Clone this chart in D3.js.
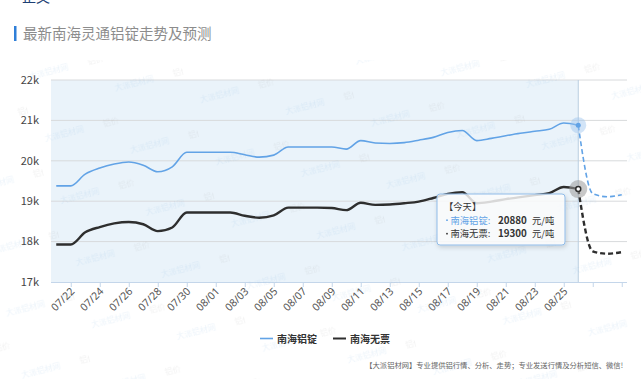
<!DOCTYPE html>
<html><head><meta charset="utf-8">
<script src="https://cdn.jsdelivr.net/npm/d3@7"></script>
<style>
html,body{margin:0;padding:0;background:#fff;}
svg{display:block;font-family:"Noto Sans CJK SC","Noto Sans",sans-serif;}
</style></head>
<body><svg id="c" width="641" height="379"></svg>
<script>
const dates = ["07/21","07/22","07/23","07/24","07/25","07/26","07/27","07/28","07/29","07/30",
"07/31","08/01","08/02","08/03","08/04","08/05","08/06","08/07","08/08","08/09",
"08/10","08/11","08/12","08/13","08/14","08/15","08/16","08/17","08/18","08/19",
"08/20","08/21","08/22","08/23","08/24","08/25","08/26","08/27","08/28","08/29"];
const todayLabel = "08/26";
const seriesNames = ["南海铝锭","南海无票"];
const ingot = [19380,19380,19670,19820,19920,19970,19890,19730,19850,20210,
20210,20210,20210,20150,20090,20140,20340,20340,20340,20340,
20290,20500,20440,20430,20450,20510,20580,20700,20750,20500,
20555,20620,20680,20730,20780,20935,20880];
const ingotForecast = [20880,19190,19110,19160];
const noTicket = [17930,17930,18230,18360,18450,18485,18430,18260,18350,18720,
18720,18720,18720,18640,18590,18650,18840,18840,18840,18830,
18780,18960,18910,18920,18950,18990,19080,19180,19220,18950,
18990,19050,19100,19150,19200,19350,19300];
const noTicketForecast = [19300,17760,17700,17740];
const yTicks = [17000,18000,19000,20000,21000,22000];
const title = "最新南海灵通铝锭走势及预测";
const footer = "【大派铝材网】专业提供铝行情、分析、走势；专业发送行情及分析短信、微信!";

const svg = d3.select("#c");
const colBlue = "#62a3e6", colBlack = "#2e2e2e";
const x = d3.scalePoint().domain(dates).range([49, 629]).padding(0.5);
const y = d3.scaleLinear().domain([17000, 22000]).range([282, 80]);
const left = 51, right = 627;
const ti = dates.indexOf(todayLabel);
const xt = x(todayLabel);

// watermark pattern
const defs = svg.append("defs");
const pat = defs.append("pattern").attr("id","wm").attr("patternUnits","userSpaceOnUse")
  .attr("width",160).attr("height",64).attr("patternTransform","rotate(-14)");
pat.append("text").attr("x",10).attr("y",20).attr("font-size",8).attr("fill","#5b9bd5").attr("opacity",0.12).text("大派铝材网");
pat.append("text").attr("x",70).attr("y",20).attr("font-size",8).attr("fill","#888").attr("opacity",0.12).text("铝价");
pat.append("text").attr("x",90).attr("y",52).attr("font-size",8).attr("fill","#5b9bd5").attr("opacity",0.12).text("大派铝材网");
pat.append("text").attr("x",150).attr("y",52).attr("font-size",8).attr("fill","#888").attr("opacity",0.12).text("铝价");
const flt = defs.append("filter").attr("id","sh").attr("x","-20%").attr("y","-20%").attr("width","140%").attr("height","140%");
flt.append("feDropShadow").attr("dx",1).attr("dy",2).attr("stdDeviation",2).attr("flood-color","#000").attr("flood-opacity",0.18);

// top cut text (partially visible in reference)
svg.append("text").attr("x",22).attr("y",1.5).attr("font-size",14).attr("fill","#1d3f73").text("正文");

// title
svg.append("rect").attr("x",14).attr("y",26).attr("width",2.5).attr("height",15).attr("fill","#2f7fd8");
svg.append("text").attr("x",23).attr("y",39).attr("font-size",14.5).attr("fill","#8c8c8c").text(title);

// shaded past area
svg.append("rect").attr("x",left).attr("y",y(22000)).attr("width",xt-left).attr("height",y(17000)-y(22000)).attr("fill","#eaf3fa");

// gridlines
svg.append("g").selectAll("line").data(yTicks.slice(1)).join("line")
  .attr("x1",left).attr("x2",right).attr("y1",d=>y(d)).attr("y2",d=>y(d))
  .attr("stroke","#d8dadc").attr("stroke-width",1);

// y labels
svg.append("g").selectAll("text").data(yTicks).join("text")
  .attr("x",39).attr("y",d=>y(d)).attr("dy","0.35em").attr("text-anchor","end")
  .attr("font-size",11).attr("fill","#444").text(d=>(d/1000)+"k");

// x axis
const xAxis = d3.axisBottom(x).tickValues(dates.filter((d,i)=>i%2===1)).tickSize(5)
  .tickFormat(d=> dates.indexOf(d) <= 35 ? d : "");
const gx = svg.append("g").attr("transform","translate(0,282)").call(xAxis);
gx.select(".domain").attr("stroke","#c4d6ea").attr("d",`M${left},0.5H${right}`);
gx.selectAll(".tick line").attr("stroke","#c4d6ea");
gx.selectAll(".tick text").attr("font-size",10.5).attr("fill","#555")
  .attr("font-family","'Noto Sans','DejaVu Sans',sans-serif")
  .attr("text-anchor","end").attr("dy",0).attr("y",0)
  .attr("transform","translate(4,10) rotate(-45)");

// today line
svg.append("line").attr("x1",xt).attr("x2",xt).attr("y1",y(22000)).attr("y2",282)
  .attr("stroke","#b9cde0").attr("stroke-width",1);

// watermark overlay
svg.append("rect").attr("x",0).attr("y",60).attr("width",641).attr("height",319).attr("fill","url(#wm)");

const line = d3.line().x((d,i)=>x(dates[i])).y(d=>y(d)).curve(d3.curveMonotoneX);
const fline = d3.line().x((d,i)=>x(dates[ti+i])).y(d=>y(d)).curve(d3.curveMonotoneX);

svg.append("path").attr("d",line(ingot)).attr("fill","none").attr("stroke",colBlue).attr("stroke-width",1.6);
svg.append("path").attr("d",line(noTicket)).attr("fill","none").attr("stroke",colBlack).attr("stroke-width",2.4);
svg.append("path").attr("d",fline(ingotForecast)).attr("fill","none").attr("stroke",colBlue).attr("stroke-width",1.6).attr("stroke-dasharray","5,3");
svg.append("path").attr("d",fline(noTicketForecast)).attr("fill","none").attr("stroke",colBlack).attr("stroke-width",2.4).attr("stroke-dasharray","5,3");

// today markers
svg.append("circle").attr("cx",xt).attr("cy",y(ingot[ti])).attr("r",8).attr("fill","#9cc4ee").attr("opacity",0.45);
svg.append("circle").attr("cx",xt).attr("cy",y(ingot[ti])).attr("r",2.5).attr("fill",colBlue);
svg.append("circle").attr("cx",xt).attr("cy",y(noTicket[ti])).attr("r",9).attr("fill","#9a9a9a").attr("opacity",0.55);
svg.append("circle").attr("cx",xt).attr("cy",y(noTicket[ti])).attr("r",2.5).attr("fill","#fff").attr("stroke",colBlack).attr("stroke-width",1.5);

// tooltip
const tt = svg.append("g").attr("transform","translate(437,194)");
tt.append("rect").attr("width",128).attr("height",51).attr("rx",3).attr("fill","#fff").attr("fill-opacity",0.8)
  .attr("stroke","#8fbbe8").attr("stroke-width",1).attr("filter","url(#sh)");
tt.append("text").attr("x",7).attr("y",16).attr("font-size",9.3).attr("fill","#333").text("【今天】");
function row(yy, name, val, c){
  tt.append("circle").attr("cx",10).attr("cy",yy-3.3).attr("r",0.9).attr("fill",c);
  tt.append("text").attr("x",13.5).attr("y",yy).attr("font-size",9.3).attr("fill",c).text(name+":");
  tt.append("text").attr("x",61).attr("y",yy).attr("font-size",9.8).attr("fill","#333").attr("font-weight","bold").text(val);
  tt.append("text").attr("x",95).attr("y",yy).attr("font-size",9.3).attr("fill","#333").text("元/吨");
}
row(29.5, seriesNames[0], ingot[ti], colBlue);
row(43, seriesNames[1], noTicket[ti], "#333");

// legend
const lg = svg.append("g");
[[260, colBlue, seriesNames[0], 1.6],[333, colBlack, seriesNames[1], 2]].forEach(([lx,c,t,w])=>{
  lg.append("line").attr("x1",lx).attr("x2",lx+13).attr("y1",338.5).attr("y2",338.5).attr("stroke",c).attr("stroke-width",w);
  lg.append("text").attr("x",lx+17).attr("y",342.5).attr("font-size",10).attr("font-weight","bold").attr("fill","#333").text(t);
});

// footer
svg.append("text").attr("x",623).attr("y",368).attr("text-anchor","end").attr("font-size",7.3).attr("fill","#666").text(footer);
</script></body></html>
